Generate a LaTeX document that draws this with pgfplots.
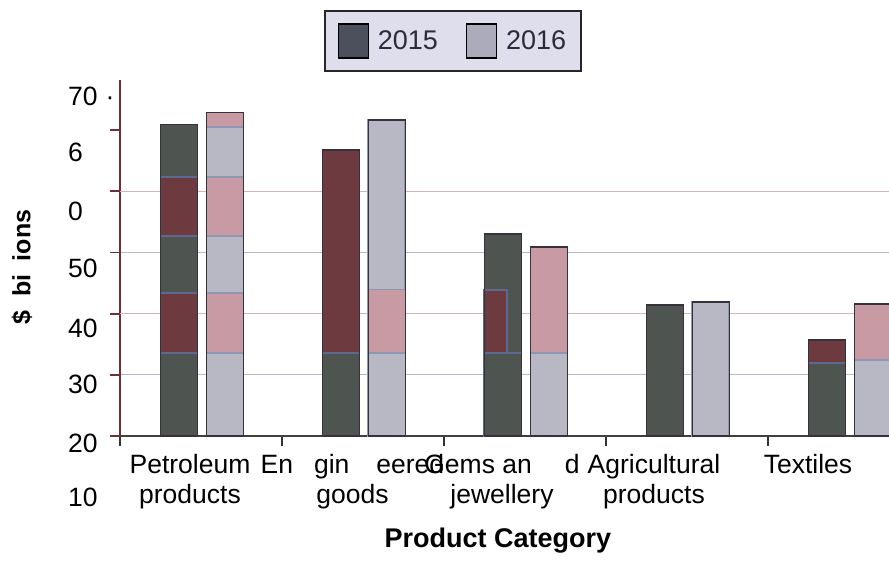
\documentclass[border=0pt]{standalone}
\usepackage{pgfplots}
\pgfplotsset{compat=1.18}
\usepackage{fontspec}
\setmainfont{Liberation Sans}
\definecolor{darkA}{HTML}{4E5551}
\definecolor{redA}{HTML}{6D3B3F}
\definecolor{lightB}{HTML}{B8B8C5}
\definecolor{pinkB}{HTML}{C79AA4}
\definecolor{bandblue}{HTML}{5C6A90}
\definecolor{maroonax}{HTML}{6E2F3A}
\definecolor{legbg}{HTML}{DEDEED}
\definecolor{legtext}{HTML}{2B2B3B}
\definecolor{legdark}{HTML}{4B505C}
\definecolor{leglight}{HTML}{ABABBB}
\definecolor{outl}{HTML}{36313A}
\definecolor{gridblue}{HTML}{B4B8C8}
\definecolor{gridred}{HTML}{D0B4BC}
\begin{document}
\begin{tikzpicture}[x=1pt,y=1pt]
\useasboundingbox (-120,-135) rectangle (769,436);
\begin{axis}[
  scale only axis, width=769pt, height=356pt,
  xmin=-0.5, xmax=4.247, ymin=20, ymax=78.17,
  axis x line*=bottom, axis y line*=left,
  x axis line style={draw=black!75, line width=2.5pt, -},
  y axis line style={draw=maroonax, line width=2pt, -},
  clip mode=individual,
  tick align=outside, major tick length=10pt,
  ytick={20,30,40,50,60,70}, yticklabels={},
  ytick style={draw=maroonax, line width=1.8pt},
  minor ytick={30,50}, minor tick length=0pt,
  yminorgrids, minor grid style={draw=gridblue, line width=1pt},
  extra y ticks={40,60}, extra y tick labels={},
  extra y tick style={ymajorgrids=true, major grid style={draw=gridred, line width=1pt}},
  xtick={-0.5,0.5,1.5,2.5,3.5}, xticklabels={},
  xtick style={draw=black!80, line width=1.8pt},
  extra x ticks={-0.068,0.935,1.858,2.796,3.747},
  extra x tick labels={Petroleum\\products, En\hspace{21pt}gin\hspace{27pt}eered\\goods\hspace{18pt}, Gems an\hspace{33pt}d\\jewellery, Agricultural\\products, Textiles},
  extra x tick style={major tick length=0pt},
  xticklabel style={align=center, anchor=north, inner sep=0pt, yshift=-18pt, font=\fontsize{26.5}{30}\selectfont},
  xlabel={Product Category},
  xlabel style={at={(axis description cs:0.4915,-0.295)}, anchor=center, font=\fontsize{27}{30}\selectfont\bfseries},
  ylabel={\$\hspace{14pt}bi\hspace{13pt}ions},
  ylabel style={at={(axis description cs:-0.1274,0.4747)}, anchor=center, font=\fontsize{25}{28}\selectfont\bfseries},
  ybar, bar width=37pt,
  legend style={at={(axis description cs:0.433,1.1096)}, anchor=center, legend columns=2, fill=legbg, draw=black!85, line width=2pt, text=legtext, font=\fontsize{27}{30}\selectfont, inner xsep=13pt, inner ysep=12pt, /tikz/every odd column/.append style={column sep=7pt}, /tikz/every even column/.append style={column sep=26pt}},
  legend image code/.code={\draw[#1, line width=1.2pt] (0pt,-17pt) rectangle (30pt,17pt);},
]
% ---- 2015 (dark) ----
\addplot[fill=darkA, draw=bandblue, line width=1.5pt, bar shift=-22pt, forget plot] coordinates {(0,70.9) (2,53.0) (3,41.4)};
\addplot[fill=redA, draw=bandblue, line width=1.5pt, bar shift=-22pt, forget plot] coordinates {(1,66.7) (4,35.7)};
\addplot[fill=redA, draw=bandblue, line width=1.5pt, bar shift=-22pt, forget plot] coordinates {(0,62.3)};
\addplot[fill=darkA, draw=bandblue, line width=1.5pt, bar shift=-22pt, forget plot] coordinates {(0,52.7)};
\addplot[fill=redA, draw=bandblue, line width=1.5pt, bar shift=-22pt, forget plot] coordinates {(0,43.4)};
\addplot[fill=redA, draw=bandblue, line width=2pt, bar width=23pt, bar shift=-29pt, forget plot] coordinates {(2,43.9)};
\addplot[fill=darkA, draw=bandblue, line width=1.5pt, bar shift=-22pt, forget plot] coordinates {(0,33.6) (1,33.6) (2,33.6) (4,31.9)};
\addplot[draw=outl, line width=1.5pt, bar shift=-22pt, forget plot] coordinates {(0,70.9) (1,66.7) (2,53.0) (3,41.4) (4,35.7)};
% ---- 2016 (light) ----
\addplot[fill=pinkB, draw=bandblue!70, line width=1.5pt, bar shift=24pt, forget plot] coordinates {(0,72.9) (2,50.9) (4,41.6)};
\addplot[fill=lightB, draw=bandblue!70, line width=2pt, bar shift=24pt, forget plot] coordinates {(1,71.6) (3,41.9)};
\addplot[fill=lightB, draw=bandblue!70, line width=1.5pt, bar shift=24pt, forget plot] coordinates {(0,70.5)};
\addplot[fill=pinkB, draw=bandblue!70, line width=1.5pt, bar shift=24pt, forget plot] coordinates {(0,62.3) (1,43.9)};
\addplot[fill=lightB, draw=bandblue!70, line width=1.5pt, bar shift=24pt, forget plot] coordinates {(0,52.7)};
\addplot[fill=pinkB, draw=bandblue!70, line width=1.5pt, bar shift=24pt, forget plot] coordinates {(0,43.4)};
\addplot[fill=lightB, draw=bandblue!70, line width=1.5pt, bar shift=24pt, forget plot] coordinates {(0,33.6) (1,33.6) (2,33.6) (4,32.4)};
\addplot[draw=outl, line width=1.5pt, bar shift=24pt, forget plot] coordinates {(0,72.9) (1,71.6) (2,50.9) (3,41.9) (4,41.6)};
% ---- y tick labels (placed as in the original, left aligned) ----
\node[anchor=west, inner sep=0pt, font=\fontsize{26.5}{30}\selectfont] at (axis cs:-0.821,75.56) {70\hspace{8pt}·};
\node[anchor=west, inner sep=0pt, font=\fontsize{26.5}{30}\selectfont] at (axis cs:-0.821,66.4) {6};
\node[anchor=west, inner sep=0pt, font=\fontsize{26.5}{30}\selectfont] at (axis cs:-0.821,56.76) {0};
\node[anchor=west, inner sep=0pt, font=\fontsize{26.5}{30}\selectfont] at (axis cs:-0.821,47.45) {50};
\node[anchor=west, inner sep=0pt, font=\fontsize{26.5}{30}\selectfont] at (axis cs:-0.821,37.65) {40};
\node[anchor=west, inner sep=0pt, font=\fontsize{26.5}{30}\selectfont] at (axis cs:-0.821,28.5) {30};
\node[anchor=west, inner sep=0pt, font=\fontsize{26.5}{30}\selectfont] at (axis cs:-0.821,18.86) {20};
\node[anchor=west, inner sep=0pt, font=\fontsize{26.5}{30}\selectfont] at (axis cs:-0.821,10.0) {10};
\addlegendimage{fill=legdark, draw=black}
\addlegendimage{fill=leglight, draw=black}
\legend{2015,2016}
\end{axis}
\end{tikzpicture}
\end{document}
